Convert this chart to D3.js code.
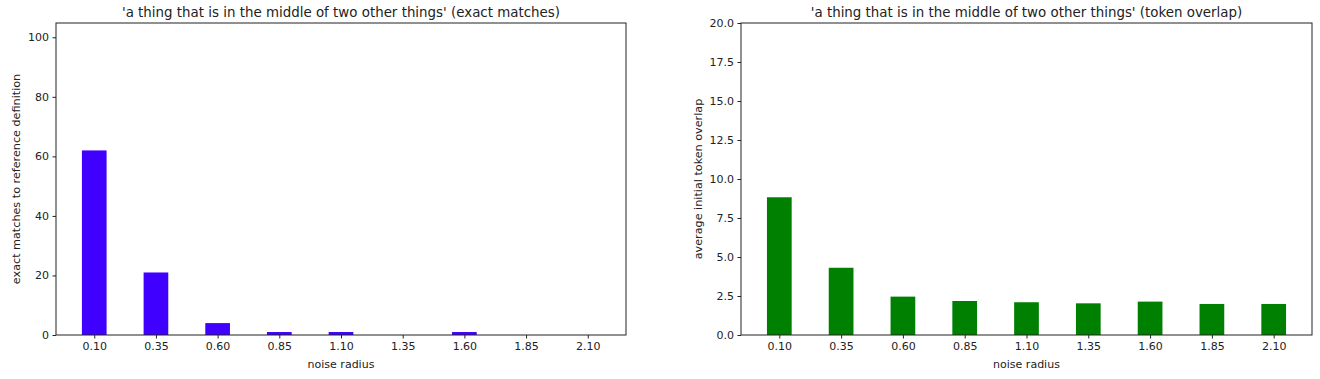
<!DOCTYPE html>
<html>
<head>
<meta charset="utf-8">
<script src="https://cdn.jsdelivr.net/npm/d3@7"></script>
<style>
  html, body { margin: 0; padding: 0; background: #fff; }
  svg { display: block; }
  text { font-family: "DejaVu Sans", sans-serif; fill: #222; }
</style>
</head>
<body>
<svg id="chart" width="1320" height="379"></svg>
<script>
const categories = ["0.10", "0.35", "0.60", "0.85", "1.10", "1.35", "1.60", "1.85", "2.10"];
const exactMatches = [62, 21, 4, 1, 1, 0, 1, 0, 0];
const tokenOverlap = [8.83, 4.31, 2.46, 2.18, 2.10, 2.03, 2.14, 1.99, 1.99];
const leftTicks = [0, 20, 40, 60, 80, 100];
const rightTicks = [0, 2.5, 5, 7.5, 10, 12.5, 15, 17.5, 20];
const titleLeft = "'a thing that is in the middle of two other things' (exact matches)";
const titleRight = "'a thing that is in the middle of two other things' (token overlap)";
const xLabel = "noise radius";
const yLabelLeft = "exact matches to reference definition";
const yLabelRight = "average initial token overlap";

const svg = d3.select("#chart");

function panel(cfg) {
  const { left, right, top, bottom, values, yMax, ticks, fmt, color, title, ylabel, ylabelX } = cfg;
  const g = svg.append("g");
  const n = categories.length;
  const x = d3.scaleLinear().domain([-0.62, n - 1 + 0.62]).range([left, right]);
  const y = d3.scaleLinear().domain([0, yMax]).range([bottom, top]);
  const bw = 0.4;

  g.selectAll("rect.bar").data(values).enter().append("rect")
    .attr("class", "bar")
    .attr("x", (d, i) => x(i - bw / 2))
    .attr("width", (d, i) => x(i + bw / 2) - x(i - bw / 2))
    .attr("y", d => y(d))
    .attr("height", d => y(0) - y(d))
    .attr("fill", color);

  g.append("rect").attr("x", left).attr("y", top).attr("width", right - left).attr("height", bottom - top)
    .attr("fill", "none").attr("stroke", "#222").attr("stroke-width", 1);

  const xAxis = d3.axisBottom(x).tickValues(d3.range(n)).tickFormat(i => categories[i]).tickSize(3.5).tickPadding(3.5);
  const gx = g.append("g").attr("transform", `translate(0,${bottom})`).call(xAxis);
  gx.select(".domain").remove();
  gx.selectAll("text").attr("font-size", 11).attr("font-family", "DejaVu Sans").attr("fill", "#222");
  gx.selectAll("line").attr("stroke", "#222");

  const yAxis = d3.axisLeft(y).tickValues(ticks).tickFormat(fmt).tickSize(3.5).tickPadding(3.5);
  const gy = g.append("g").attr("transform", `translate(${left},0)`).call(yAxis);
  gy.select(".domain").remove();
  gy.selectAll("text").attr("font-size", 11).attr("font-family", "DejaVu Sans").attr("fill", "#222");
  gy.selectAll("line").attr("stroke", "#222");

  g.append("text").attr("x", (left + right) / 2).attr("y", 17)
    .attr("text-anchor", "middle").attr("font-size", 13.4).text(title);
  g.append("text").attr("x", (left + right) / 2).attr("y", 368)
    .attr("text-anchor", "middle").attr("font-size", 11).text(xLabel);
  g.append("text").attr("transform", `translate(${ylabelX},${(top + bottom) / 2}) rotate(-90)`)
    .attr("text-anchor", "middle").attr("font-size", 11.2).text(ylabel);
}

panel({ left: 56, right: 626, top: 23, bottom: 335, values: exactMatches, yMax: 104.8, ticks: leftTicks,
        fmt: d3.format("d"), color: "#4000ff", title: titleLeft, ylabel: yLabelLeft, ylabelX: 20 });
panel({ left: 741, right: 1312, top: 23, bottom: 335, values: tokenOverlap, yMax: 20, ticks: rightTicks,
        fmt: d3.format(".1f"), color: "#008000", title: titleRight, ylabel: yLabelRight, ylabelX: 702 });
</script>
</body>
</html>
